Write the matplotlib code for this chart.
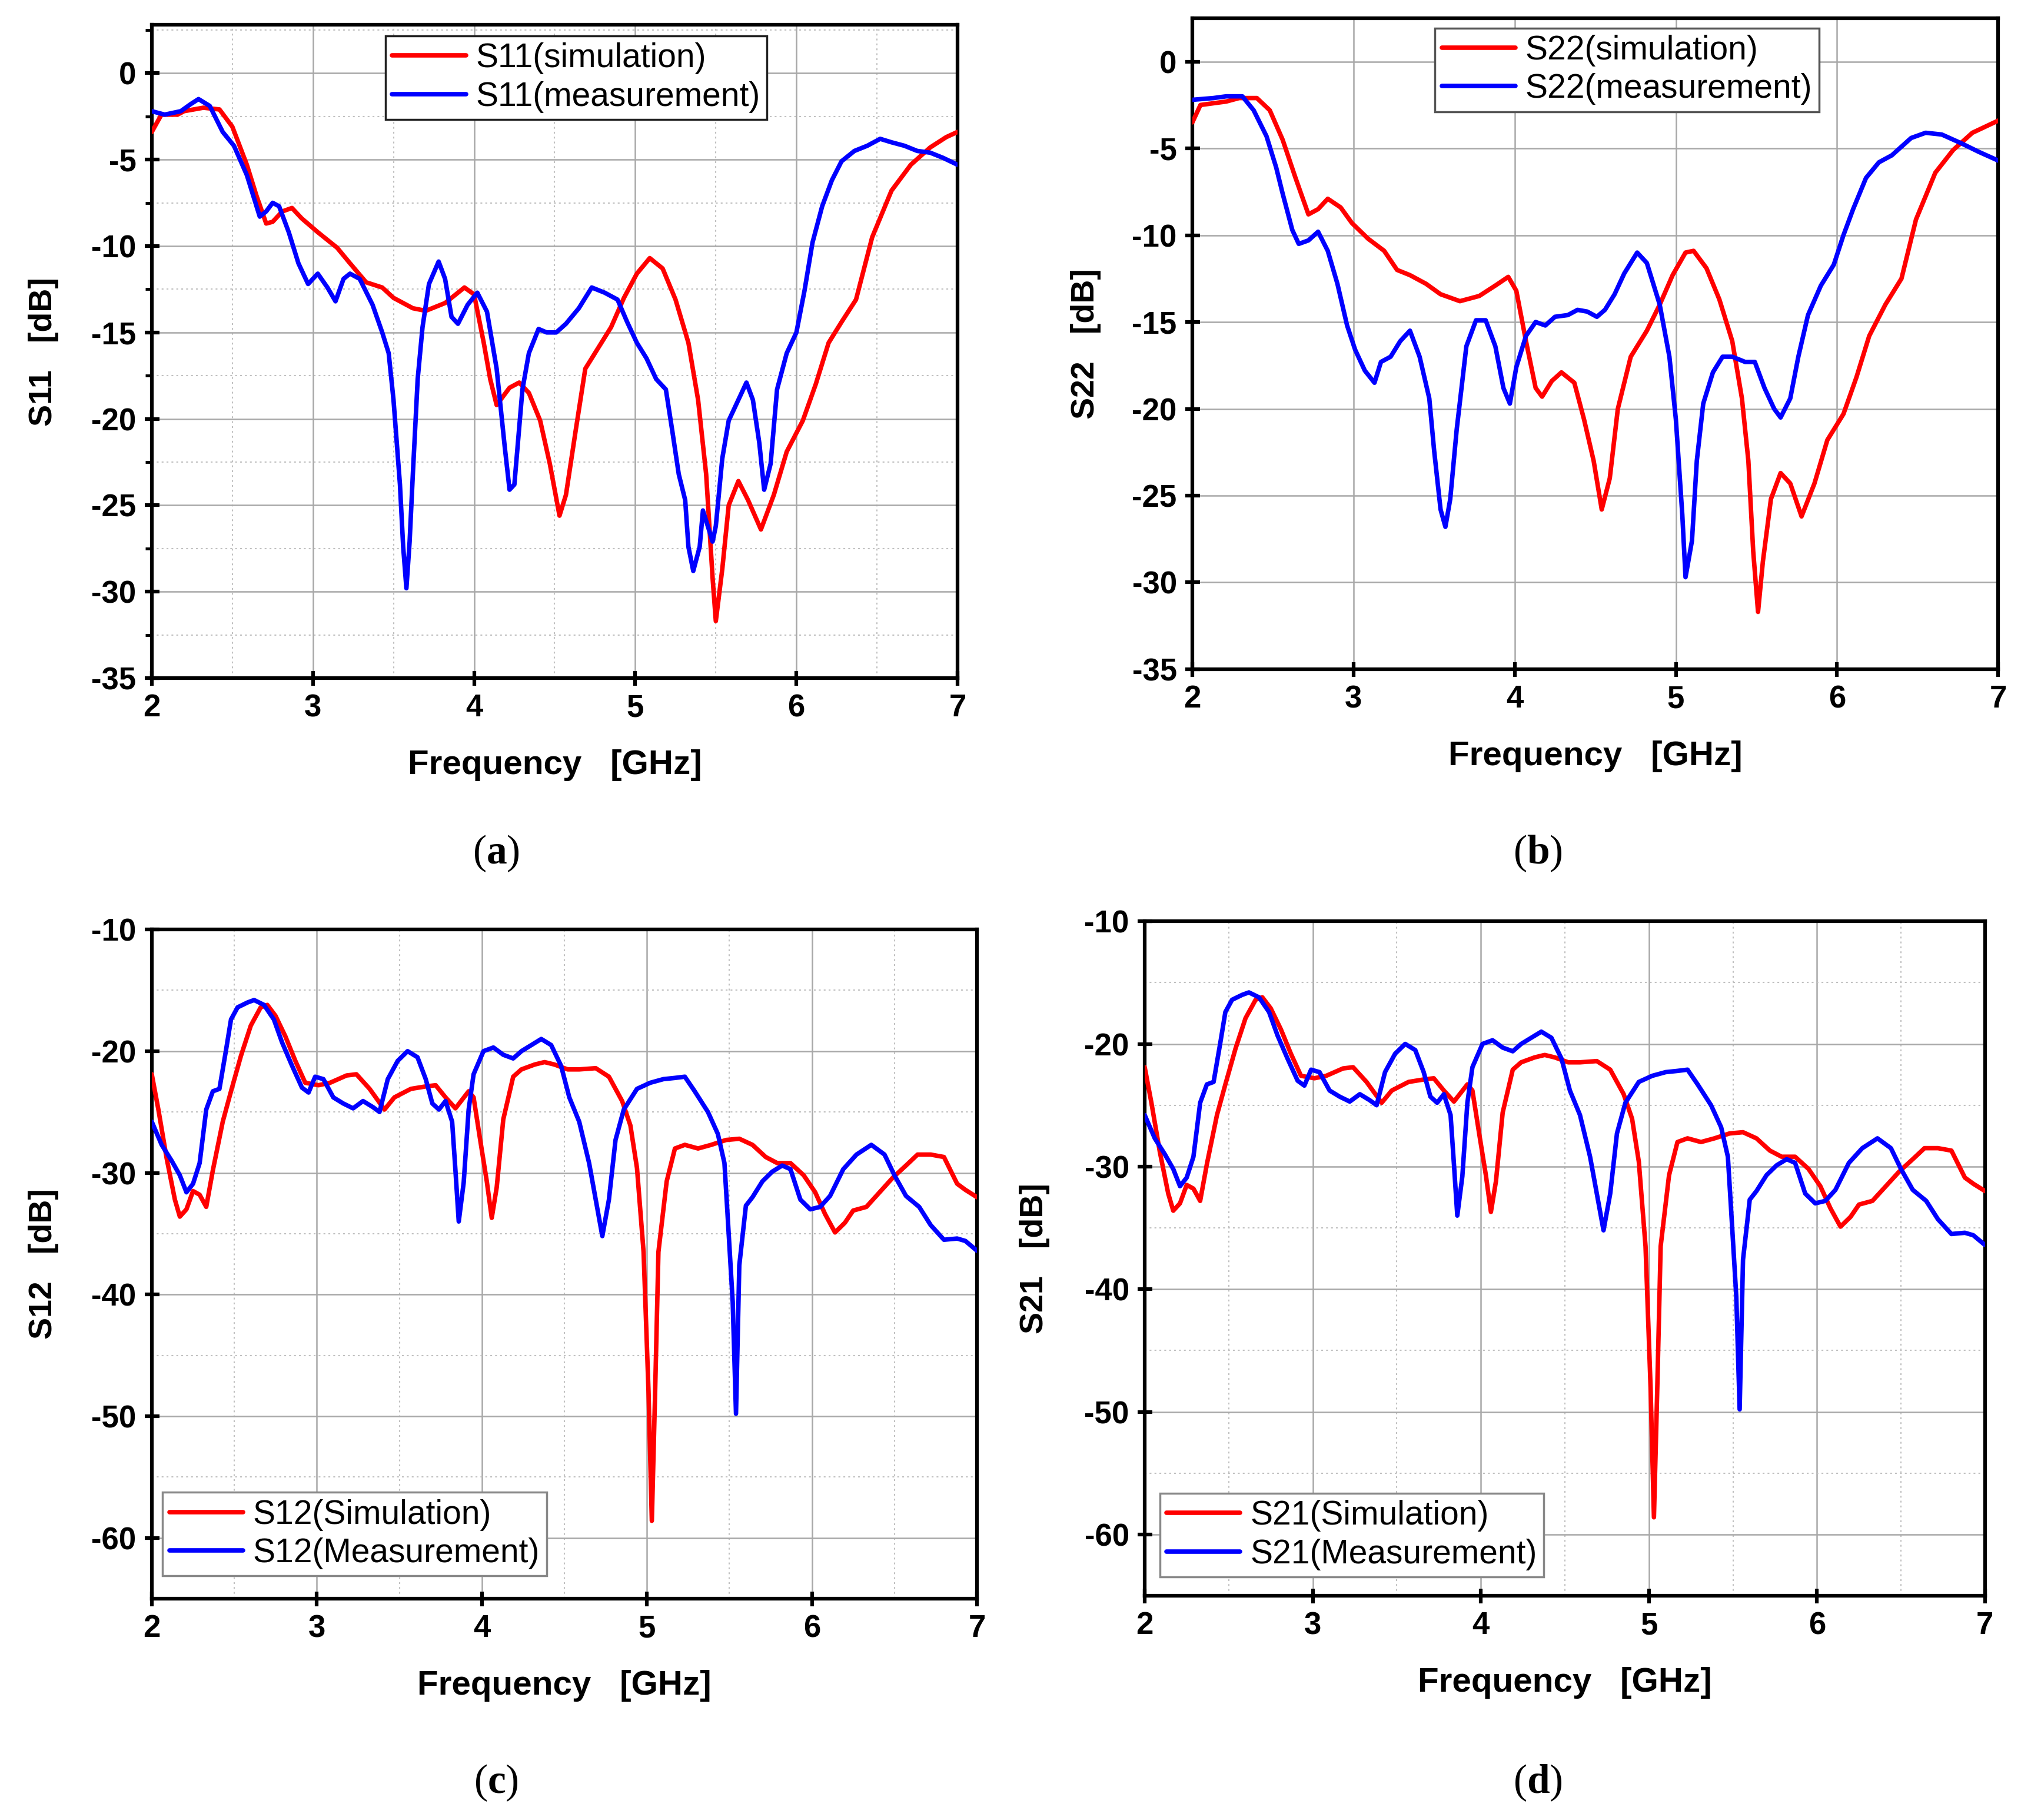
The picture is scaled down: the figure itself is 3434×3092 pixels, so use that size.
import matplotlib.pyplot as plt
from matplotlib.ticker import MultipleLocator

# ---- (a) S11 ----
S11_SIM_F = [2.0, 2.06, 2.16, 2.2, 2.32, 2.42, 2.5, 2.59, 2.65, 2.71, 2.75, 2.81, 2.87, 2.93,
             3.03, 3.15, 3.23, 3.33, 3.43, 3.5, 3.62, 3.7, 3.82, 3.94, 4.0, 4.06, 4.1, 4.14,
             4.22, 4.28, 4.34, 4.41, 4.47, 4.53, 4.57, 4.63, 4.69, 4.77, 4.85, 4.93, 5.01,
             5.09, 5.17, 5.25, 5.33, 5.39, 5.44, 5.48, 5.5, 5.54, 5.58, 5.64, 5.7, 5.78, 5.86,
             5.94, 6.04, 6.12, 6.2, 6.28, 6.37, 6.47, 6.59, 6.71, 6.83, 6.93, 7.0]
S11_SIM = [-3.4, -2.4, -2.4, -2.2, -2.0, -2.1, -3.1, -5.3, -7.1, -8.7, -8.6, -8.0, -7.8, -8.4,
           -9.2, -10.1, -11.0, -12.1, -12.4, -13.0, -13.6, -13.75, -13.3, -12.4, -12.8, -15.6,
           -17.7, -19.2, -18.2, -17.9, -18.5, -20.1, -22.6, -25.6, -24.4, -20.7, -17.1, -15.9,
           -14.7, -13.0, -11.6, -10.7, -11.3, -13.1, -15.6, -18.9, -23.2, -29.2, -31.7, -28.7,
           -25.0, -23.6, -24.7, -26.4, -24.4, -21.9, -20.1, -18.0, -15.6, -14.4, -13.1, -9.5,
           -6.8, -5.3, -4.3, -3.7, -3.4]
S11_MEAS_F = [2.0, 2.08, 2.18, 2.24, 2.29, 2.36, 2.44, 2.51, 2.59, 2.67, 2.71, 2.75, 2.79, 2.85,
              2.91, 2.97, 3.03, 3.09, 3.14, 3.19, 3.23, 3.29, 3.37, 3.43, 3.47, 3.5, 3.54, 3.56,
              3.58, 3.6, 3.62, 3.65, 3.68, 3.72, 3.78, 3.82, 3.86, 3.9, 3.96, 4.02, 4.08, 4.14,
              4.19, 4.22, 4.25, 4.3, 4.34, 4.4, 4.45, 4.51, 4.57, 4.65, 4.73, 4.81, 4.89, 4.95,
              5.01, 5.07, 5.13, 5.19, 5.23, 5.27, 5.31, 5.33, 5.36, 5.4, 5.42, 5.45, 5.48, 5.5,
              5.54, 5.58, 5.64, 5.69, 5.73, 5.77, 5.8, 5.84, 5.88, 5.94, 6.0, 6.05, 6.1, 6.16,
              6.22, 6.28, 6.36, 6.44, 6.52, 6.59, 6.67, 6.75, 6.83, 6.91, 7.0]
S11_MEAS = [-2.2, -2.4, -2.2, -1.8, -1.5, -1.9, -3.4, -4.2, -5.9, -8.3, -8.0, -7.5, -7.7, -9.2,
            -11.0, -12.2, -11.6, -12.4, -13.2, -11.9, -11.6, -11.9, -13.4, -15.0, -16.2, -18.9,
            -23.8, -27.4, -29.8, -27.1, -23.2, -17.7, -14.7, -12.2, -10.9, -11.9, -14.1, -14.5,
            -13.4, -12.7, -13.8, -17.1, -21.6, -24.1, -23.8, -18.3, -16.2, -14.8, -15.0, -15.0,
            -14.5, -13.6, -12.4, -12.7, -13.1, -14.4, -15.6, -16.5, -17.7, -18.3, -20.7, -23.2,
            -24.7, -27.4, -28.8, -27.4, -25.3, -26.2, -27.1, -26.2, -22.3, -20.1, -18.9, -17.9,
            -18.9, -21.4, -24.1, -22.6, -18.3, -16.2, -15.0, -12.6, -9.8, -7.7, -6.2, -5.1, -4.5,
            -4.2, -3.8, -4.0, -4.2, -4.5, -4.6, -4.9, -5.3]

# ---- (b) S22 ----
S22_SIM_F = [2.0, 2.05, 2.13, 2.21, 2.29, 2.4, 2.48, 2.56, 2.64, 2.72, 2.78, 2.84, 2.92, 2.99,
             3.09, 3.19, 3.27, 3.35, 3.45, 3.54, 3.66, 3.78, 3.88, 3.96, 4.01, 4.07, 4.13, 4.17,
             4.23, 4.29, 4.37, 4.43, 4.49, 4.54, 4.59, 4.64, 4.72, 4.82, 4.9, 4.98, 5.06, 5.11,
             5.19, 5.27, 5.35, 5.41, 5.45, 5.48, 5.51, 5.54, 5.59, 5.65, 5.71, 5.78, 5.86, 5.94,
             6.04, 6.12, 6.2, 6.3, 6.4, 6.49, 6.61, 6.72, 6.84, 7.0]
S22_SIM = [-3.5, -2.5, -2.4, -2.3, -2.1, -2.1, -2.8, -4.5, -6.7, -8.8, -8.5, -7.9, -8.4, -9.3,
           -10.2, -10.9, -12.0, -12.3, -12.8, -13.4, -13.8, -13.5, -12.9, -12.4, -13.2, -16.1,
           -18.8, -19.3, -18.4, -17.9, -18.5, -20.6, -23.0, -25.8, -24.0, -20.0, -17.0, -15.5,
           -14.0, -12.3, -11.0, -10.9, -11.9, -13.7, -16.1, -19.4, -23.0, -28.2, -31.7, -28.8,
           -25.2, -23.7, -24.3, -26.2, -24.3, -21.8, -20.3, -18.2, -15.8, -14.0, -12.5, -9.1,
           -6.4, -5.1, -4.1, -3.4]
S22_MEAS_F = [2.0, 2.13, 2.21, 2.31, 2.38, 2.46, 2.52, 2.56, 2.62, 2.66, 2.72, 2.78, 2.84, 2.9,
              2.96, 3.01, 3.07, 3.13, 3.17, 3.23, 3.29, 3.35, 3.41, 3.47, 3.5, 3.54, 3.57, 3.6,
              3.64, 3.7, 3.76, 3.82, 3.88, 3.93, 3.97, 4.01, 4.07, 4.13, 4.19, 4.25, 4.33, 4.39,
              4.45, 4.51, 4.56, 4.62, 4.68, 4.76, 4.82, 4.9, 4.96, 5.0, 5.04, 5.06, 5.1, 5.13,
              5.17, 5.23, 5.29, 5.35, 5.43, 5.49, 5.55, 5.61, 5.65, 5.71, 5.76, 5.82, 5.9, 5.98,
              6.04, 6.1, 6.18, 6.26, 6.34, 6.46, 6.55, 6.65, 6.77, 6.88, 7.0]
S22_MEAS = [-2.2, -2.1, -2.0, -2.0, -2.8, -4.3, -6.1, -7.6, -9.7, -10.5, -10.3, -9.8, -10.9,
            -12.8, -15.2, -16.6, -17.8, -18.5, -17.3, -17.0, -16.1, -15.5, -17.0, -19.4, -22.4,
            -25.8, -26.8, -25.2, -21.2, -16.4, -14.9, -14.9, -16.4, -18.8, -19.7, -17.6, -15.8,
            -15.0, -15.2, -14.7, -14.6, -14.3, -14.4, -14.7, -14.3, -13.4, -12.2, -11.0, -11.6,
            -14.0, -17.0, -20.6, -26.1, -29.7, -27.6, -23.0, -19.7, -17.9, -17.0, -17.0, -17.3,
            -17.3, -18.8, -20.0, -20.5, -19.4, -17.0, -14.6, -12.9, -11.7, -10.0, -8.5, -6.7,
            -5.8, -5.4, -4.4, -4.1, -4.2, -4.7, -5.2, -5.7]

# ---- (c) S12 / (d) S21 ----
S12_SIM_F = [2.0, 2.04, 2.09, 2.14, 2.17, 2.21, 2.25, 2.29, 2.33, 2.37, 2.43, 2.48, 2.54, 2.6,
             2.66, 2.7, 2.75, 2.81, 2.87, 2.93, 3.01, 3.08, 3.18, 3.24, 3.32, 3.41, 3.47, 3.57,
             3.66, 3.72, 3.78, 3.84, 3.92, 3.95, 3.99, 4.03, 4.06, 4.09, 4.13, 4.19, 4.24, 4.32,
             4.38, 4.44, 4.52, 4.59, 4.69, 4.77, 4.85, 4.9, 4.94, 4.98, 5.01, 5.03, 5.05, 5.07,
             5.12, 5.17, 5.23, 5.31, 5.39, 5.48, 5.56, 5.64, 5.72, 5.79, 5.87, 5.95, 6.02, 6.08,
             6.14, 6.2, 6.25, 6.33, 6.41, 6.49, 6.57, 6.64, 6.72, 6.8, 6.88, 6.93, 7.0]
S12_SIM = [-21.9, -24.8, -28.8, -32.2, -33.6, -33.0, -31.5, -31.8, -32.8, -29.8, -25.8, -23.3,
           -20.4, -17.9, -16.4, -16.2, -17.1, -18.8, -20.8, -22.6, -22.8, -22.6, -22.0, -21.9,
           -23.1, -24.8, -23.8, -23.1, -22.9, -22.8, -23.8, -24.7, -23.3, -23.8, -27.3, -30.7,
           -33.7, -31.2, -25.6, -22.1, -21.5, -21.1, -20.9, -21.1, -21.5, -21.5, -21.4, -22.1,
           -24.1, -26.1, -29.6, -36.5, -48.0, -58.6, -48.0, -36.5, -30.7, -28.0, -27.7, -28.0,
           -27.7, -27.3, -27.2, -27.7, -28.7, -29.2, -29.2, -30.2, -31.6, -33.4, -34.9, -34.1,
           -33.1, -32.8, -31.6, -30.4, -29.4, -28.5, -28.5, -28.7, -30.9, -31.4, -32.0]
S12_MEAS_F = [2.0, 2.06, 2.12, 2.17, 2.21, 2.25, 2.29, 2.33, 2.37, 2.41, 2.45, 2.48, 2.52, 2.58,
              2.62, 2.68, 2.74, 2.79, 2.85, 2.91, 2.95, 2.99, 3.04, 3.1, 3.16, 3.22, 3.28, 3.34,
              3.38, 3.43, 3.49, 3.55, 3.61, 3.66, 3.7, 3.74, 3.78, 3.82, 3.84, 3.86, 3.89, 3.92,
              3.95, 4.01, 4.07, 4.13, 4.19, 4.24, 4.3, 4.36, 4.42, 4.48, 4.53, 4.59, 4.65, 4.69,
              4.73, 4.77, 4.81, 4.86, 4.94, 5.02, 5.1, 5.17, 5.23, 5.29, 5.37, 5.43, 5.47, 5.49,
              5.52, 5.54, 5.56, 5.6, 5.64, 5.7, 5.76, 5.82, 5.87, 5.93, 5.99, 6.05, 6.11, 6.19,
              6.27, 6.36, 6.44, 6.5, 6.57, 6.65, 6.72, 6.8, 6.88, 6.93, 7.0]
S12_MEAS = [-25.8, -27.7, -29.0, -30.2, -31.6, -30.9, -29.2, -24.8, -23.3, -23.1, -19.9, -17.4,
            -16.4, -16.0, -15.8, -16.2, -17.4, -19.3, -21.2, -23.0, -23.4, -22.1, -22.3, -23.8,
            -24.3, -24.7, -24.1, -24.6, -25.0, -22.3, -20.8, -20.0, -20.5, -22.3, -24.3, -24.8,
            -24.1, -25.8, -29.8, -34.0, -30.8, -24.8, -21.9, -20.0, -19.7, -20.3, -20.6, -20.0,
            -19.5, -19.0, -19.5, -21.2, -23.8, -25.8, -29.2, -32.2, -35.2, -32.2, -27.3, -24.8,
            -23.1, -22.6, -22.3, -22.2, -22.1, -23.3, -25.0, -26.8, -29.2, -33.7, -40.6, -49.8,
            -37.6, -32.7, -32.0, -30.7, -29.9, -29.4, -29.7, -32.2, -33.0, -32.8, -31.9, -29.7,
            -28.5, -27.7, -28.5, -30.2, -31.9, -32.8, -34.3, -35.5, -35.4, -35.6, -36.4]
# panel (d) shows the same traces as (c)
S21_SIM_F, S21_SIM = S12_SIM_F, S12_SIM
S21_MEAS_F, S21_MEAS = S12_MEAS_F, S12_MEAS

RED = "#ff0000"
BLUE = "#0000ff"

plt.rcParams.update(
    {
        "font.family": ["Liberation Sans", "DejaVu Sans"],
        "font.weight": "bold",
        "axes.unicode_minus": False,
        "mathtext.fontset": "custom",
        "mathtext.rm": "Liberation Serif",
        "mathtext.bf": "Liberation Serif:bold",
    }
)


def draw(ax, fs, ys, fm, ym, name, sim_word, meas_word, ylim, ystep, minor_grid, minor_ticks,
         legend_loc, legend_anchor, legend_edge, ylab_pad):
    kw = dict(linewidth=5.5, solid_joinstyle="round", solid_capstyle="round", zorder=3)
    ax.plot(fs, ys, color=RED, label=f"{name}({sim_word})", **kw)
    ax.plot(fm, ym, color=BLUE, label=f"{name}({meas_word})", **kw)
    ax.set_xlim(2, 7)
    ax.set_ylim(*ylim)
    ax.xaxis.set_major_locator(MultipleLocator(1))
    ax.yaxis.set_major_locator(MultipleLocator(ystep))
    ax.grid(which="major", color="#a8a8a8", linewidth=1.8, linestyle="-")
    if minor_grid:
        ax.xaxis.set_minor_locator(MultipleLocator(0.5))
        ax.yaxis.set_minor_locator(MultipleLocator(ystep / 2))
        ax.grid(which="minor", color="#c0c0c0", linewidth=1.5, linestyle=(0, (1.5, 2.5)))
    ax.tick_params(which="major", direction="inout", length=18, width=4.5,
                   labelsize=38, pad=10)
    ax.tick_params(which="minor", direction="out", length=8 if minor_ticks else 0, width=3.5)
    ax.tick_params(axis="x", which="minor", length=0)
    for s in ax.spines.values():
        s.set_linewidth(4.5)
    ax.set_xlabel("Frequency   [GHz]", fontsize=42, fontweight="bold", labelpad=32)
    ax.set_ylabel(f"{name}   [dB]", fontsize=40, fontweight="bold", labelpad=ylab_pad)
    leg = ax.legend(loc=legend_loc, bbox_to_anchor=legend_anchor, borderaxespad=0,
                    prop={"weight": "normal", "size": 41}, frameon=True, fancybox=False,
                    framealpha=1, edgecolor=legend_edge, handlelength=2.2, handletextpad=0.3,
                    borderpad=0.2, labelspacing=0.2)
    leg.get_frame().set_linewidth(2.5)


fig = plt.figure(figsize=(34.34, 30.92), dpi=100)
ax_a = fig.add_axes([0.0751, 0.6274, 0.3987, 0.3590])
ax_b = fig.add_axes([0.5900, 0.6323, 0.3987, 0.3577])
ax_c = fig.add_axes([0.0751, 0.1216, 0.4083, 0.3677])
ax_d = fig.add_axes([0.5664, 0.1232, 0.4158, 0.3706])

draw(ax_a, S11_SIM_F, S11_SIM, S11_MEAS_F, S11_MEAS, "S11", "simulation", "measurement",
     (-35, 2.8), 5, True, True, "upper left", (0.29, 0.983), "#222222", 40)
draw(ax_b, S22_SIM_F, S22_SIM, S22_MEAS_F, S22_MEAS, "S22", "simulation", "measurement",
     (-35, 2.5), 5, False, False, "upper left", (0.301, 0.985), "#555555", 38)
draw(ax_c, S12_SIM_F, S12_SIM, S12_MEAS_F, S12_MEAS, "S12", "Simulation", "Measurement",
     (-65, -10), 10, True, False, "lower left", (0.013, 0.034), "#888888", 40)
draw(ax_d, S21_SIM_F, S21_SIM, S21_MEAS_F, S21_MEAS, "S21", "Simulation", "Measurement",
     (-65, -10), 10, True, False, "lower left", (0.018, 0.028), "#888888", 42)

for x, y, tag in [(0.2455, 0.531, "a"), (0.761, 0.531, "b"),
                  (0.2455, 0.0204, "c"), (0.761, 0.0204, "d")]:
    fig.text(x, y, rf"($\mathbf{{{tag}}}$)", fontsize=50, ha="center", va="center",
             fontweight="normal", family="Liberation Serif")

fig.savefig("out.png", dpi=100, facecolor="white")
